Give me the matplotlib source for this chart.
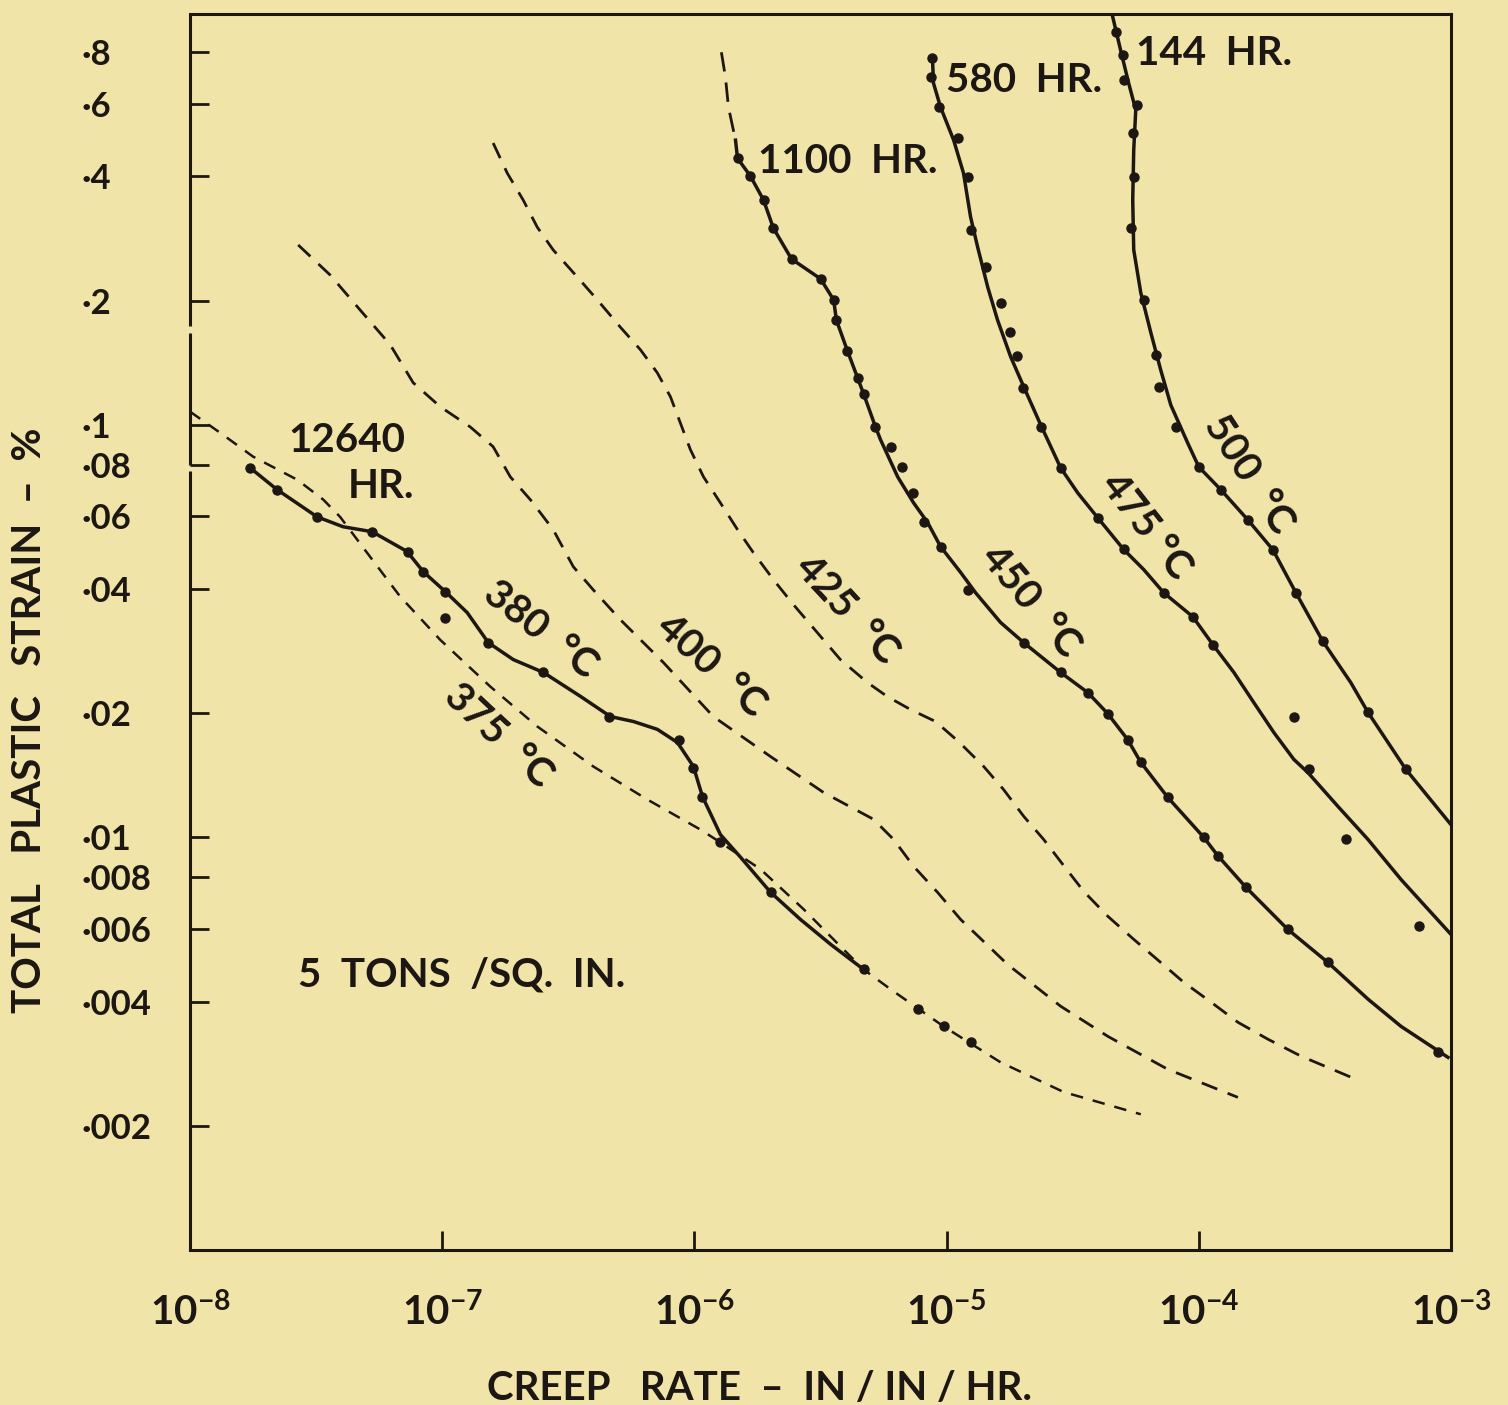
import matplotlib.pyplot as plt
import numpy as np

# values, kept as log10 of creep rate (in/in/hr)
# and log10 of total plastic strain (%)

# 375 C - dashed, no points
log_rate_375 = [-8.000, -7.881, -7.750, -7.575, -7.472, -7.405, -7.298, -7.167, -7.008, -6.810,
                -6.623, -6.401, -6.187, -5.976, -5.897, -5.738, -5.567, -5.421, -5.329, -5.222,
                -5.012, -4.786, -4.536, -4.230]
log_strain_375 = [-0.968, -1.019, -1.077, -1.133, -1.181, -1.223, -1.310, -1.416, -1.521, -1.634,
                  -1.731, -1.828, -1.908, -1.981, -2.012, -2.077, -2.174, -2.264, -2.320, -2.368,
                  -2.458, -2.545, -2.617, -2.671]

# 380 C - 12640 hr test
log_rate_380 = [-7.762, -7.655, -7.496, -7.393, -7.278, -7.139, -7.075, -6.988, -6.901, -6.817,
                -6.718, -6.599, -6.452, -6.333, -6.242, -6.147, -6.067, -6.004, -5.968, -5.897,
                -5.817, -5.698, -5.579, -5.460, -5.329]
log_strain_380 = [-1.104, -1.157, -1.223, -1.247, -1.259, -1.307, -1.356, -1.404, -1.455, -1.528,
                  -1.569, -1.600, -1.658, -1.707, -1.719, -1.738, -1.770, -1.828, -1.901, -1.993,
                  -2.048, -2.133, -2.199, -2.259, -2.320]
pts_rate_380 = [-7.762, -7.655, -7.496, -7.278, -7.135, -7.075, -6.988, -6.988, -6.817, -6.599,
                -6.337, -6.063, -6.004, -5.968, -5.897, -5.698, -5.329, -5.115, -5.012, -4.905]
pts_strain_380 = [-1.104, -1.157, -1.223, -1.259, -1.307, -1.356, -1.404, -1.467, -1.528, -1.600,
                  -1.707, -1.763, -1.831, -1.903, -2.012, -2.133, -2.320, -2.416, -2.458, -2.496]

# 400 C - dashed
log_rate_400 = [-7.571, -7.444, -7.325, -7.206, -7.115, -7.008, -6.889, -6.798, -6.730, -6.651,
                -6.560, -6.480, -6.401, -6.294, -6.123, -5.925, -5.698, -5.488, -5.290, -5.210,
                -5.131, -5.036, -4.944, -4.758, -4.548, -4.361, -4.123, -3.845]
log_strain_400 = [-0.564, -0.637, -0.722, -0.806, -0.898, -0.956, -1.005, -1.053, -1.126, -1.181,
                  -1.254, -1.344, -1.400, -1.472, -1.576, -1.707, -1.804, -1.891, -1.956, -2.005,
                  -2.070, -2.133, -2.199, -2.308, -2.409, -2.482, -2.562, -2.630]

# 425 C - dashed
log_rate_425 = [-6.798, -6.742, -6.679, -6.623, -6.560, -6.464, -6.385, -6.294, -6.214, -6.147,
                -6.095, -6.056, -6.016, -5.964, -5.897, -5.829, -5.766, -5.687, -5.607, -5.512,
                -5.421, -5.313, -5.234, -5.143, -5.044, -4.952, -4.853, -4.774, -4.694, -4.615,
                -4.536, -4.456, -4.361, -4.258, -4.151, -4.060, -3.952, -3.845, -3.726, -3.595,
                -3.397]
log_strain_425 = [-0.317, -0.390, -0.455, -0.521, -0.576, -0.642, -0.697, -0.763, -0.818, -0.874,
                  -0.932, -0.995, -1.060, -1.126, -1.189, -1.254, -1.310, -1.375, -1.436, -1.504,
                  -1.569, -1.625, -1.659, -1.690, -1.719, -1.768, -1.828, -1.884, -1.949, -2.005,
                  -2.068, -2.131, -2.191, -2.247, -2.303, -2.351, -2.399, -2.448, -2.489, -2.530,
                  -2.581]

# 450 C - 1100 hr test (dashed above the first point)
ext_rate_450 = [-5.893, -5.877, -5.865, -5.837]
ext_strain_450 = [-0.097, -0.157, -0.230, -0.310]
log_rate_450 = [-5.837, -5.829, -5.778, -5.726, -5.687, -5.615, -5.500, -5.448, -5.437, -5.393,
                -5.353, -5.329, -5.282, -5.262, -5.194, -5.131, -5.075, -5.024, -4.944, -4.885,
                -4.786, -4.694, -4.548, -4.440, -4.361, -4.282, -4.230, -4.123, -3.980, -3.925,
                -3.813, -3.647, -3.488, -3.329, -3.198, -3.012]
log_strain_450 = [-0.310, -0.354, -0.397, -0.455, -0.523, -0.598, -0.646, -0.697, -0.746, -0.821,
                  -0.886, -0.925, -1.005, -1.036, -1.126, -1.189, -1.237, -1.295, -1.358, -1.407,
                  -1.479, -1.528, -1.600, -1.649, -1.700, -1.763, -1.818, -1.903, -2.000, -2.044,
                  -2.121, -2.223, -2.303, -2.392, -2.458, -2.533]
pts_rate_450 = [-5.829, -5.778, -5.726, -5.687, -5.615, -5.500, -5.448, -5.437, -5.393, -5.353,
                -5.329, -5.282, -5.222, -5.175, -5.135, -5.091, -5.024, -4.917, -4.694, -4.548,
                -4.440, -4.361, -4.282, -4.230, -4.123, -3.980, -3.925, -3.813, -3.647, -3.488,
                -3.052]
pts_strain_450 = [-0.354, -0.397, -0.455, -0.523, -0.598, -0.646, -0.697, -0.746, -0.821, -0.886,
                  -0.925, -1.005, -1.053, -1.102, -1.165, -1.235, -1.295, -1.400, -1.528, -1.600,
                  -1.649, -1.700, -1.763, -1.818, -1.903, -2.000, -2.044, -2.121, -2.223, -2.303,
                  -2.521]

# 475 C - 580 hr test
log_rate_475 = [-5.056, -5.052, -5.024, -4.972, -4.933, -4.905, -4.877, -4.837, -4.798, -4.746,
                -4.694, -4.627, -4.548, -4.480, -4.401, -4.298, -4.218, -4.139, -4.024, -3.944,
                -3.861, -3.782, -3.702, -3.623, -3.567, -3.448, -3.329, -3.198, -3.091, -3.000]
log_strain_475 = [-0.111, -0.172, -0.230, -0.310, -0.390, -0.496, -0.569, -0.666, -0.746, -0.835,
                  -0.908, -1.000, -1.104, -1.165, -1.225, -1.302, -1.351, -1.407, -1.465, -1.533,
                  -1.600, -1.673, -1.746, -1.811, -1.843, -1.925, -2.005, -2.102, -2.174, -2.235]
pts_rate_475 = [-5.056, -5.063, -5.032, -4.956, -4.917, -4.905, -4.845, -4.786, -4.750, -4.722,
                -4.698, -4.627, -4.548, -4.401, -4.298, -4.139, -4.024, -3.944, -3.623, -3.563,
                -3.417, -3.127]
pts_strain_475 = [-0.111, -0.157, -0.230, -0.305, -0.400, -0.528, -0.617, -0.705, -0.775, -0.833,
                  -0.910, -1.005, -1.104, -1.225, -1.302, -1.407, -1.465, -1.533, -1.709, -1.835,
                  -2.005, -2.215]

# 500 C - 144 hr test
log_rate_500 = [-4.341, -4.310, -4.278, -4.250, -4.258, -4.262, -4.258, -4.230, -4.190, -4.151,
                -4.111, -4.044, -4.000, -3.913, -3.806, -3.706, -3.615, -3.508, -3.397, -3.329,
                -3.179, -3.091, -3.000]
log_strain_500 = [-0.012, -0.092, -0.172, -0.237, -0.334, -0.455, -0.576, -0.680, -0.777, -0.867,
                  -0.952, -1.044, -1.102, -1.157, -1.230, -1.303, -1.407, -1.525, -1.625, -1.697,
                  -1.835, -1.901, -1.969]
pts_rate_500 = [-4.329, -4.302, -4.298, -4.246, -4.262, -4.258, -4.270, -4.218, -4.171, -4.159,
                -4.091, -4.000, -3.913, -3.806, -3.706, -3.615, -3.508, -3.329, -3.179]
pts_strain_500 = [-0.048, -0.104, -0.165, -0.225, -0.293, -0.400, -0.523, -0.697, -0.831, -0.908,
                  -1.005, -1.102, -1.157, -1.230, -1.303, -1.407, -1.525, -1.697, -1.835]

# axis ticks
x_ticks = [1e-8, 1e-7, 1e-6, 1e-5, 1e-4, 1e-3]
x_labels = [r'$\mathregular{10^{-8}}$', r'$\mathregular{10^{-7}}$', r'$\mathregular{10^{-6}}$',
            r'$\mathregular{10^{-5}}$', r'$\mathregular{10^{-4}}$', r'$\mathregular{10^{-3}}$']
y_ticks = [0.002, 0.004, 0.006, 0.008, 0.01, 0.02, 0.04, 0.06, 0.08, 0.1, 0.2, 0.4, 0.6, 0.8]
y_labels = ['·002', '·004', '·006', '·008', '·01', '·02', '·04', '·06', '·08', '·1',
            '·2', '·4', '·6', '·8']

paper = '#f0e4a8'
ink = '#1c1712'

plt.rcParams['font.family'] = ['Lato', 'DejaVu Sans']
plt.rcParams['font.weight'] = 'bold'
plt.rcParams['mathtext.default'] = 'regular'


def pw(vals):
    '''log10 values back to real numbers'''
    return np.power(10.0, np.asarray(vals))


fig = plt.figure(figsize=(15.08, 14.05), dpi=100)
fig.patch.set_facecolor(paper)
ax = fig.add_axes([0.126, 0.1103, 0.8362, 0.8797])
ax.set_facecolor(paper)
ax.set_xscale('log')
ax.set_yscale('log')

dash = (6, 4)

# dashed curves
ax.plot(pw(log_rate_375), pw(log_strain_375), color=ink, lw=1.8, dashes=(5, 4))
ax.plot(pw(log_rate_400), pw(log_strain_400), color=ink, lw=2.0, dashes=dash)
ax.plot(pw(log_rate_425), pw(log_strain_425), color=ink, lw=2.0, dashes=dash)
ax.plot(pw(ext_rate_450), pw(ext_strain_450), color=ink, lw=2.0, dashes=(7, 4))

# solid curves with test points
for r, s, pr, ps in [(log_rate_380, log_strain_380, pts_rate_380, pts_strain_380),
                     (log_rate_450, log_strain_450, pts_rate_450, pts_strain_450),
                     (log_rate_475, log_strain_475, pts_rate_475, pts_strain_475),
                     (log_rate_500, log_strain_500, pts_rate_500, pts_strain_500)]:
    ax.plot(pw(r), pw(s), color=ink, lw=2.5, solid_joinstyle='round')
    ax.plot(pw(pr), pw(ps), 'o', color=ink, ms=6.5)

ax.set_xlim(1e-8, 1e-3)
ax.set_ylim(1e-3, 0.99)

ax.set_xticks(x_ticks, x_labels)
ax.set_yticks(y_ticks, y_labels)
ax.xaxis.set_minor_locator(plt.NullLocator())
ax.yaxis.set_minor_locator(plt.NullLocator())
ax.tick_params(axis='both', direction='in', length=14, width=2, colors=ink)
ax.tick_params(axis='x', pad=30, labelsize=29)
ax.tick_params(axis='y', pad=78, labelsize=25)
for lab in ax.get_yticklabels():
    lab.set_horizontalalignment('left')

for side in ['top', 'right', 'bottom']:
    ax.spines[side].set_linewidth(2.2)
    ax.spines[side].set_color(ink)

# left edge of the plate has two small breaks in it
ax.spines['left'].set_visible(False)
for lo, hi in [(0.0, 0.630), (0.635, 0.742), (0.748, 1.0)]:
    ax.plot([0, 0], [lo, hi], transform=ax.transAxes, color=ink, lw=2.2,
            clip_on=False, solid_capstyle='butt')

ax.set_xlabel('CREEP   RATE  –  IN / IN / HR.', fontsize=29, fontweight='bold', color=ink)
ax.xaxis.set_label_coords(0.4516, -0.097)
ax.set_ylabel('TOTAL   PLASTIC   STRAIN  –  %', fontsize=29, fontweight='bold', color=ink,
              va='center')
ax.yaxis.set_label_coords(-0.127, 0.4288)

# hour labels
tk = dict(color=ink, fontsize=29, va='center')
ax.text(10**-7.377, 10**-1.039, '12640', ha='center', **tk)
ax.text(10**-7.242, 10**-1.150, 'HR.', ha='center', **tk)
ax.text(10**-5.746, 10**-0.361, '1100  HR.', ha='left', **tk)
ax.text(10**-5.004, 10**-0.165, '580  HR.', ha='left', **tk)
ax.text(10**-4.250, 10**-0.099, '144  HR.', ha='left', **tk)
ax.text(10**-7.571, 10**-2.334, '5  TONS  /SQ.  IN.', ha='left', **tk)

# temperature labels along the curves
for x, y, txt, rot in [(-6.611, -1.496, '380  °C', -38),
                       (-6.778, -1.755, '375  °C', -43),
                       (-5.933, -1.584, '400  °C', -42),
                       (-5.397, -1.448, '425  °C', -47),
                       (-4.667, -1.429, '450  °C', -50),
                       (-4.210, -1.247, '475 °C', -52),
                       (-3.802, -1.121, '500  °C', -57)]:
    ax.text(10**x, 10**y, txt, ha='center', va='center', rotation=rot,
            rotation_mode='anchor', fontsize=29, color=ink)

fig.savefig('out.png', dpi=100, facecolor=paper)
